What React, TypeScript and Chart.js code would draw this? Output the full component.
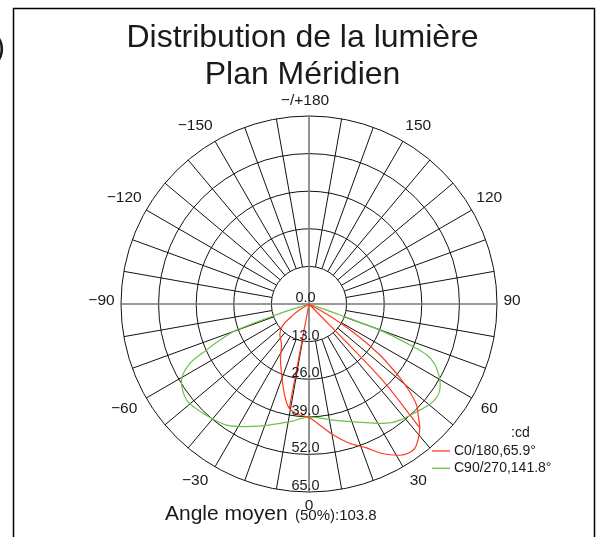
import React, { useEffect, useRef } from "react";
import { Chart, registerables } from "chart.js";

Chart.register(...registerables);

// ---------- text ----------
const TITLE_LINES = ["Distribution de la lumière", "Plan Méridien"];
const FOOTER_MAIN = "Angle moyen";
const FOOTER_SUB = "(50%):103.8";
const UNIT_LABEL = ":cd";

// ---------- axes ----------
const R_MAX = 65;
const RING_VALUES = [0, 13, 26, 39, 52, 65];
const SPOKE_INNER = 13;
const SPOKE_STEP = 10;
const ANGLE_TICKS = [0, 30, 60, 90, 120, 150, 180, -150, -120, -90, -60, -30];
const ANGLE_LABELS = ["0", "30", "60", "90", "120", "150", "−/+180", "−150", "−120", "−90", "−60", "−30"];

// ---------- series ----------
const SERIES_LABELS = ["C0/180,65.9°", "C90/270,141.8°"];
const SERIES_COLORS = ["#ff3a22", "#6cc24a"];

// gamma angle in degrees (0 = nadir/down, + = right side), intensity in cd; null = pen up
const RED_ANGLES = [
  -62, -58, -55, -51, -44, -34, -28, -22, -15, -10.7, -5, 0, 5, 10.4, 16, 21.8, 26, 31, 34, 36.4, 39, 41.8, 44,
  46.8, 49, 50.9, 52.5, 54.3, 57, 59.7, 61,
  null,
  0, -10.7,
  null,
  0, 44, 41.8,
];
const RED_VALUES = [
  0, 3.5, 6.7, 11.6, 14.5, 17, 21, 25.5, 32.6, 36.7, 38.5, 39.2, 42, 46, 50, 53.6, 57.5, 61, 62, 61.8, 60, 57.5, 54.5,
  51, 46, 40.6, 35.5, 30.2, 19.7, 9.6, 0,
  null,
  0, 36.7,
  null,
  0, 36, 57.5,
];

const GREEN_ANGLES = [
  -74, -72, -70.2, -67.8, -65.8, -63.5, -59.2, -51.9, -44, -34.2, -21.9, -9.2, 0, 11.7, 25.9, 33.1, 38.1, 45, 51.8,
  57.2, 63.3, 66.6, 67.9, 69.6, 70.5, 72,
];
const GREEN_VALUES = [
  0, 10.5, 26.6, 33.5, 38.9, 46, 51.3, 53.8, 52.6, 50.6, 45.5, 41.2, 39, 41, 45.6, 49.2, 51, 52.7, 54.6, 53.9, 49.4,
  44.4, 37.7, 27.4, 11.4, 0,
];

const FONT = "'Liberation Sans', Arial, Helvetica, sans-serif";

function toPoints(angles: (number | null)[], values: (number | null)[]) {
  return angles.map((a, i) => {
    const v = values[i];
    if (a === null || v === null) return { x: NaN, y: NaN };
    const rad = (a * Math.PI) / 180;
    return { x: v * Math.sin(rad), y: -v * Math.cos(rad) };
  });
}

const polarPlugin = {
  id: "polarGrid",
  beforeDatasetsDraw(chart: any) {
    const { ctx, scales } = chart;
    const xs = scales.x;
    const ys = scales.y;
    const cx = xs.getPixelForValue(0);
    const cy = ys.getPixelForValue(0);
    const rp = (v: number) => xs.getPixelForValue(v) - cx;
    ctx.save();
    // spokes
    ctx.strokeStyle = "#111";
    ctx.lineWidth = 1;
    for (let a = 0; a < 360; a += SPOKE_STEP) {
      if (a % 90 === 0) continue;
      const rad = (a * Math.PI) / 180;
      const s = Math.sin(rad);
      const c = Math.cos(rad);
      ctx.beginPath();
      ctx.moveTo(cx + rp(SPOKE_INNER) * s, cy + rp(SPOKE_INNER) * c);
      ctx.lineTo(cx + rp(R_MAX) * s, cy + rp(R_MAX) * c);
      ctx.stroke();
    }
    // rings
    for (const v of RING_VALUES) {
      if (v <= 0) continue;
      ctx.beginPath();
      ctx.arc(cx, cy, rp(v), 0, Math.PI * 2);
      ctx.stroke();
    }
    // main axes (gray)
    ctx.strokeStyle = "#7a7a7a";
    ctx.lineWidth = 1.6;
    ctx.beginPath();
    ctx.moveTo(cx - rp(R_MAX), cy);
    ctx.lineTo(cx + rp(R_MAX), cy);
    ctx.moveTo(cx, cy - rp(R_MAX));
    ctx.lineTo(cx, cy + rp(R_MAX));
    ctx.stroke();
    ctx.restore();
  },
  afterDatasetsDraw(chart: any) {
    const { ctx, scales } = chart;
    const xs = scales.x;
    const ys = scales.y;
    const cx = xs.getPixelForValue(0);
    const cy = ys.getPixelForValue(0);
    const rp = (v: number) => xs.getPixelForValue(v) - cx;
    ctx.save();
    ctx.fillStyle = "#1a1a1a";

    // ring labels
    ctx.font = `14.5px ${FONT}`;
    ctx.textAlign = "center";
    ctx.textBaseline = "alphabetic";
    for (const v of RING_VALUES) {
      ctx.fillText(v.toFixed(1), cx - 3.5, cy + rp(v) - 2);
    }

    // angle labels
    ctx.font = `15.5px ${FONT}`;
    ctx.textBaseline = "middle";
    const R0 = rp(R_MAX) + 14.5;
    ANGLE_TICKS.forEach((a, i) => {
      const label = ANGLE_LABELS[i];
      const rad = (a * Math.PI) / 180;
      const s = Math.sin(rad);
      const c = Math.cos(rad);
      const sx = Math.abs(s) < 1e-6 ? 0 : Math.sign(s);
      const sy = Math.abs(c) < 1e-6 ? 0 : Math.sign(c);
      const px = cx + (R0 + 0.5) * s + sx * 9 * Math.abs(c);
      let py = cy + (R0 - 0.3) * c + sy * 5 * Math.abs(s) - 1.25;
      if (sy === 0) py -= 3;
      const m = label.match(/^(.*?)(\d+)$/);
      if (label.includes("/") || !m) {
        ctx.textAlign = "center";
        ctx.fillText(label, px - 4, py + 0.5);
      } else {
        const numW = ctx.measureText(m[2]).width;
        ctx.textAlign = "right";
        ctx.fillText(label, px + numW / 2, py + 0.5);
      }
    });

    // title
    ctx.textBaseline = "alphabetic";
    ctx.textAlign = "center";
    ctx.font = `32px ${FONT}`;
    ctx.fillText(TITLE_LINES[0], 302.5, 47);
    ctx.fillText(TITLE_LINES[1], 302.5, 84);

    // footer
    ctx.textAlign = "left";
    ctx.font = `21px ${FONT}`;
    ctx.fillText(FOOTER_MAIN, 165, 520);
    ctx.font = `15px ${FONT}`;
    ctx.fillText(FOOTER_SUB, 295, 520);

    // legend
    ctx.font = `14px ${FONT}`;
    ctx.fillText(UNIT_LABEL, 511, 437);
    chart.data.datasets.forEach((ds: any, i: number) => {
      const ly = 451 + i * 17.3;
      ctx.strokeStyle = ds.borderColor;
      ctx.lineWidth = 1.3;
      ctx.beginPath();
      ctx.moveTo(432, ly);
      ctx.lineTo(450, ly);
      ctx.stroke();
      ctx.fillText(ds.label, 454, ly + 4);
    });

    // frame
    ctx.strokeStyle = "#000";
    ctx.lineWidth = 1.5;
    ctx.beginPath();
    ctx.moveTo(13.5, 537);
    ctx.lineTo(13.5, 8.5);
    ctx.lineTo(594.5, 8.5);
    ctx.lineTo(594.5, 537);
    ctx.stroke();

    // cropped neighbour glyph
    ctx.font = `30px ${FONT}`;
    ctx.textAlign = "left";
    ctx.fillText(")", -5, 57);
    ctx.restore();
  },
};

export default function App() {
  const canvasRef = useRef<HTMLCanvasElement | null>(null);

  useEffect(() => {
    const canvas = canvasRef.current;
    if (!canvas) return;
    const chart = new Chart(canvas, {
      type: "scatter",
      data: {
        datasets: [
          {
            label: SERIES_LABELS[0],
            data: toPoints(RED_ANGLES, RED_VALUES),
            showLine: true,
            borderColor: SERIES_COLORS[0],
            backgroundColor: SERIES_COLORS[0],
            borderWidth: 1.2,
            pointRadius: 0,
            tension: 0.3,
            spanGaps: false,
            clip: false,
          } as any,
          {
            label: SERIES_LABELS[1],
            data: toPoints(GREEN_ANGLES, GREEN_VALUES),
            showLine: true,
            borderColor: SERIES_COLORS[1],
            backgroundColor: SERIES_COLORS[1],
            borderWidth: 1.2,
            pointRadius: 0,
            tension: 0.3,
            spanGaps: false,
            clip: false,
          } as any,
        ],
      },
      options: {
        animation: false,
        responsive: false,
        devicePixelRatio: 1,
        events: [],
        layout: { padding: { left: 121, right: 101, top: 116, bottom: 45 } },
        scales: {
          x: { type: "linear", display: false, min: -R_MAX, max: R_MAX },
          y: { type: "linear", display: false, min: -R_MAX, max: R_MAX },
        },
        plugins: {
          legend: { display: false },
          tooltip: { enabled: false },
          title: { display: false },
        },
      },
      plugins: [polarPlugin],
    });
    return () => chart.destroy();
  }, []);

  return (
    <div style={{ position: "absolute", left: 0, top: 0, width: 598, height: 537, background: "#fff" }}>
      <canvas ref={canvasRef} width={598} height={537} style={{ display: "block" }} />
    </div>
  );
}
